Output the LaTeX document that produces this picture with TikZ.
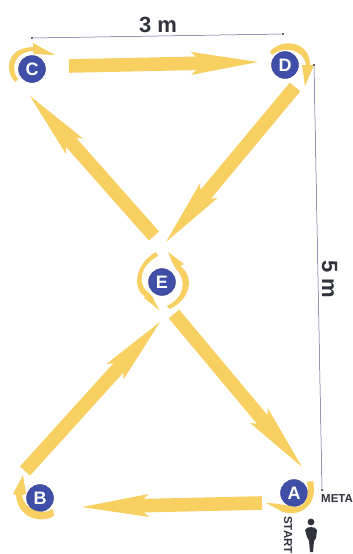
\documentclass[tikz,border=0pt]{standalone}
\usepackage{fontspec}
\setmainfont{Liberation Sans}
\usetikzlibrary{calc}
\definecolor{amber}{HTML}{F8D062}
\definecolor{disc}{HTML}{3F4EA6}
\definecolor{dim}{HTML}{5A5F8C}
\definecolor{ink}{HTML}{30323C}
\tikzset{
  station/.style={circle,fill=disc,draw=disc!85!black,line width=0.4pt,minimum size=27pt,inner sep=0pt,text=white,font=\bfseries\fontsize{18}{18}\selectfont},
  amberfill/.style={fill=amber,draw=none},
  dimline/.style={draw=dim,line width=0.5pt},
  dimtext/.style={text=ink,font=\bfseries\fontsize{22}{22}\selectfont,inner sep=0pt},
  smalltext/.style={text=ink,font=\bfseries\fontsize{11.5}{11.5}\selectfont,inner sep=0pt},
  dimdot/.style={circle,fill=ink,inner sep=0pt,minimum size=2.4pt}
}
% straight tapered arrow: tail coordinate, tip coordinate
\newcommand{\bigarrow}[2]{%
  \fill[amberfill]
    ($(#1)!6.8pt!90:(#2)$) --
    ($(#2)!62pt!(#1)!6.8pt!-90:(#1)$) --
    ($(#2)!67pt!(#1)!11.5pt!-90:(#1)$) --
    (#2) --
    ($(#2)!67pt!(#1)!11.5pt!90:(#1)$) --
    ($(#2)!62pt!(#1)!6.8pt!90:(#1)$) --
    ($(#1)!6.8pt!-90:(#2)$) -- cycle;}
\begin{document}
\begin{tikzpicture}[x=1pt,y=-1pt]
\useasboundingbox (0,0) rectangle (353,554);
\clip (0,0) rectangle (353,554);
\fill[white] (0,0) rectangle (353,554);

% stations
\node[station] (C) at (32,69) {C};
\node[station] (D) at (285,65) {D};
\node[station] (E) at (162,282) {E};
\node[station] (A) at (294,493) {A};
\node[station] (B) at (40,498) {B};

% straight arrows
\coordinate (cdT) at (69,66);   \coordinate (cdH) at (258,62);
\coordinate (deT) at (295,87);  \coordinate (deH) at (166,242);
\coordinate (ecT) at (154,236); \coordinate (ecH) at (30,96);
\coordinate (beT) at (25,471);  \coordinate (beH) at (160,322);
\coordinate (eaT) at (174,314); \coordinate (eaH) at (302,467);
\coordinate (abT) at (262,503); \coordinate (abH) at (82,507);
\bigarrow{cdT}{cdH}
\bigarrow{deT}{deH}
\bigarrow{ecT}{ecH}
\bigarrow{beT}{beH}
\bigarrow{eaT}{eaH}
\bigarrow{abT}{abH}

% turning arrows
\fill[amberfill] (15,82) .. controls (5,72) and (5,48) .. (33,47)
  -- (33,43) -- (55,55) -- (34,54) -- (33,51)
  .. controls (14,52) and (10,68) .. (18,79) -- cycle;
\fill[amberfill] (270,52) .. controls (280,38) and (310,40) .. (310,65)
  -- (314,65) -- (305,86) -- (302,65) -- (306,65)
  .. controls (304,48) and (282,46) .. (272,55) -- cycle;
\fill[amberfill] (156,252) .. controls (134,264) and (132,290) .. (146,297)
  -- (143,297) -- (159,310) -- (152,296) -- (149,293)
  .. controls (137,285) and (139,266) .. (158,256) -- cycle;
\fill[amberfill] (170,309) .. controls (192,298) and (194,276) .. (180,266)
  -- (184,264) -- (168,252) -- (172,262) -- (176,269)
  .. controls (187,280) and (185,297) .. (167,306) -- cycle;
\fill[amberfill] (307,482) -- (313,481) .. controls (318,500) and (305,518) .. (283,512)
  -- (266,503) .. controls (275,503) and (285,505) .. (295,507)
  .. controls (306,507) and (310,495) .. (307,482) -- cycle;
\fill[amberfill] (54,516) .. controls (40,524) and (18,518) .. (16,495)
  -- (13,494) -- (23,475) -- (26,494) -- (22,495)
  .. controls (24,510) and (42,516) .. (53,509) -- cycle;

% dimension lines
\node[dimdot] (d1) at (32,38) {};
\node[dimdot] (d2) at (283,34) {};
\node[dimdot] (d3) at (314,65) {};
\node[dimdot] (d4) at (322,490) {};
\draw[dimline] (d1) -- (d2);
\draw[dimline] (d3) -- (d4);

% texts
\node[dimtext] (t3) at (158,25) {3 m};
\node[dimtext,rotate=-90] (t5) at (329.5,279) {5 m};
\node[smalltext,anchor=west] (meta) at (321,499) {META};
\node[smalltext,rotate=-90,anchor=west] (start) at (288,516) {START};

% runner
\fill[ink] (311,522) circle (3.4);
\fill[ink] (305,530) .. controls (307,526) and (315,526) .. (317,530)
  -- (316,538) -- (314,541) -- (313,552) -- (310,552)
  -- (309,541) -- (307,537) -- cycle;
\end{tikzpicture}
\end{document}
